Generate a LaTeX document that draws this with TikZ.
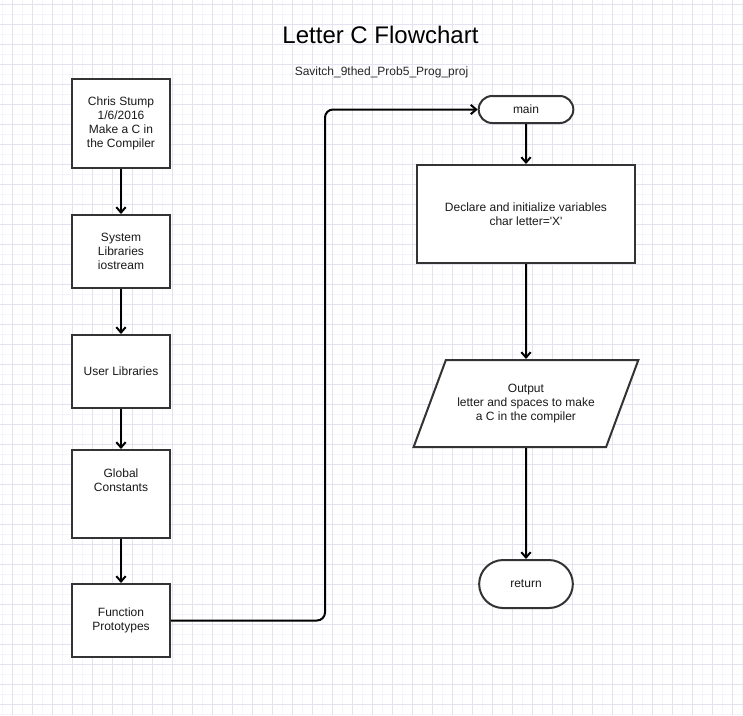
\documentclass[tikz,border=0pt]{standalone}
\usepackage{fontspec}
\setmainfont{Liberation Sans}
\usepackage{tikz}
\usetikzlibrary{shapes.geometric,shapes.misc,arrows.meta,positioning}
\definecolor{rejillamenor}{RGB}{244,244,250}
\definecolor{rejillamayor}{RGB}{226,226,240}
\definecolor{borde}{RGB}{51,51,51}
\tikzstyle{bloque} = [draw=borde, fill=white, line width=1.5pt, rectangle, align=center, inner sep=2pt, text=black!90, font=\fontsize{9}{10.5}\selectfont]
\tikzstyle{izq} = [bloque, minimum width=73.5pt, minimum height=54.75pt]
\tikzstyle{terminal} = [bloque, rounded rectangle]
\tikzstyle{salida} = [bloque, trapezium, trapezium left angle=57, trapezium right angle=123, trapezium stretches=true, minimum width=168.75pt, minimum height=65.25pt]
\tikzstyle{flecha} = [line width=1.5pt, -{Straight Barb[length=4pt,width=7pt]}]

\begin{document}
\begin{tikzpicture}[x=0.75pt, y=-0.75pt]
					\useasboundingbox (0,0) rectangle (743,715);
					\fill[white] (0,0) rectangle (743,715);
					\foreach \gx in {2,22,...,742} \draw[rejillamenor, line width=0.75pt] (\gx,0) -- (\gx,715);
					\foreach \gy in {14,34,...,714} \draw[rejillamenor, line width=0.75pt] (0,\gy) -- (743,\gy);
					\foreach \gx in {12,32,...,732} \draw[rejillamayor, line width=0.75pt] (\gx,0) -- (\gx,715);
					\foreach \gy in {4,24,...,704} \draw[rejillamayor, line width=0.75pt] (0,\gy) -- (743,\gy);
					\node[anchor=base, font=\fontsize{18}{21.6}\selectfont] (titulo) at (380.5,43.5) {Letter C Flowchart};
					\node[anchor=base, text=black!85, font=\fontsize{9}{10.5}\selectfont] (subtitulo) at (381.5,75) {Savitch\_9thed\_Prob5\_Prog\_proj};
					\node[izq, minimum height=66.75pt] (autor) at (121,123.5) {Chris Stump\\1/6/2016\\Make a C in\\the Compiler};
					\node[izq, below=33.75pt of autor] (sistema) {System\\Libraries\\iostream};
					\node[izq, below=33.75pt of sistema] (usuario) {User Libraries};
					\node[izq, minimum height=66pt, below=30pt of usuario] (globales) {Global\\Constants\\[10.5pt]};
					\node[izq, below=33pt of globales] (prototipos) {Function\\Prototypes};
					\node[terminal, minimum width=75pt, minimum height=20.25pt] (main) at (526,109.5) {main};
					\node[bloque, minimum width=163.5pt, minimum height=73.5pt, below=30pt of main] (declarar) {Declare and initialize variables\\char letter=\textquotesingle X\textquotesingle};
					\node[salida, below=71.25pt of declarar] (imprimir) {Output\\letter and spaces to make\\a C in the compiler};
					\node[terminal, minimum width=74.25pt, minimum height=36pt, below=83.25pt of imprimir] (fin) {return};
					\coordinate (codo) at (325,109.5);
					\draw[flecha] (autor) -- (sistema);
					\draw[flecha] (sistema) -- (usuario);
					\draw[flecha] (usuario) -- (globales);
					\draw[flecha] (globales) -- (prototipos);
					\draw[flecha, rounded corners=6pt] (prototipos.east) -| (codo) -- (main.west);
					\draw[flecha] (main) -- (declarar);
					\draw[flecha] (declarar) -- (imprimir);
					\draw[flecha] (imprimir) -- (fin);
\end{tikzpicture}
\end{document}
